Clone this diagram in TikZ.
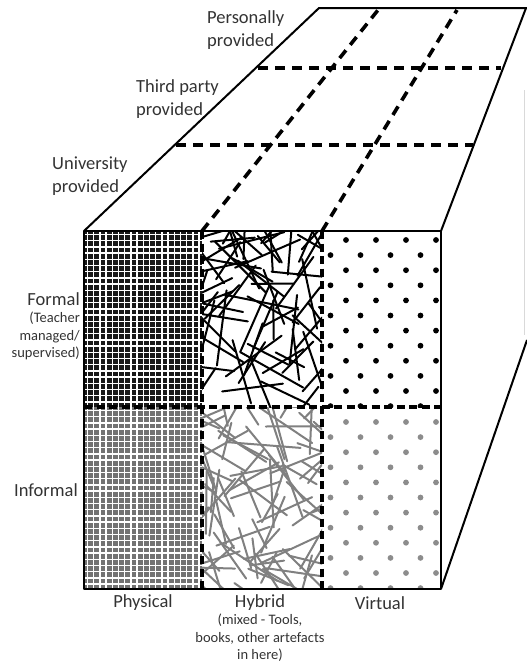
\documentclass[tikz,border=0pt]{standalone}
\usepackage{fontspec}
\setmainfont{Carlito}
\tikzset{
	edge/.style={line width=2pt, line join=round},
	celldash/.style={line width=3.6pt, dash pattern=on 8pt off 4.5pt},
	topdash/.style={line width=3.6pt, dash pattern=on 10pt off 7pt},
	strand/.style={line width=2pt, line cap=round},
	lbl/.style={inner sep=0pt, text=black!80, font=\fontsize{18.5}{23}\selectfont},
	note/.style={inner sep=0pt, text=black!80, font=\fontsize{14.5}{17.5}\selectfont},
}

\begin{document}
\begin{tikzpicture}[x=1pt, y=-1pt]
			%%%%% START %%%%%
			\useasboundingbox (0, 0) rectangle (527, 665);
			
			% physical: grid
			\foreach \ya/\yb/\shade in {231/407/90, 407/589/55}{
				\fill[black!\shade] (84, \ya) rectangle (202, \yb);
				\begin{scope}
					\clip (84, \ya) rectangle (202, \yb);
					\foreach \i in {0,...,19}
						\draw[white, line width=1.5pt] ({87.5+6.2*\i}, \ya) -- ++(0, 200);
					\foreach \i in {0,...,30}
						\draw[white, line width=1.5pt] (84, {\ya+3.5+6.2*\i}) -- ++(120, 0);
				\end{scope}
			}
			
			% hybrid: random strands
			\pgfmathsetseed{2024}
			\foreach \ya/\yb/\col/\num in {231/407/black/78, 407/589/black!50/92}{
				\begin{scope}
					\clip (202, \ya) rectangle (322, \yb);
					\foreach \i in {1,...,\num}{
						\pgfmathsetmacro\xa{190+144*rnd}
						\pgfmathsetmacro\yc{\ya-10+(\yb-\ya+20)*rnd}
						\pgfmathsetmacro\an{180*rnd}
						\pgfmathsetmacro\le{16+22*rnd}
						\draw[strand, color=\col] (\xa, \yc) ++(\an:\le) -- ++({\an+180}:{2*\le});
					}
				\end{scope}
			}
			
			% virtual: dots
			\foreach \yo/\col in {240/black, 422/black!45}{
				\begin{scope}
					\clip (322, {\yo-9}) rectangle (441, {\yo+167});
					\foreach \r in {0,...,11}{
						\pgfmathsetmacro\xo{346-15.5*mod(\r,2)}
						\foreach \c in {0,...,3}
							\fill[\col] ({\xo+30*\c}, {\yo+15.1*\r}) circle (2.9);
					}
				\end{scope}
			}
			
			% cell borders
			\draw[celldash] (202, 231) -- (202, 589);
			\draw[celldash] (322, 231) -- (322, 589);
			\draw[celldash] (84, 407) -- (441, 407);
			
			% top face
			\draw[topdash] (202, 231) -- (378, 10);
			\draw[topdash] (322, 231) -- (457, 10);
			\draw[topdash] (258, 68) -- (501, 68);
			\draw[topdash] (176, 145) -- (473, 145);
			
			\draw[edge] (84, 231) rectangle (441, 589);
			\draw[edge] (84, 231) -- (319, 8) -- (527, 8);
			\draw[edge] (441, 231) -- (526, 8);
			\draw[edge] (441, 589) -- (527, 340);
			\draw[black!15, line width=0.6pt] (524, 90) -- (524, 335);
			
			% labels
			\node[lbl, anchor=west, align=left] (personal) at (207, 30) {Personally\\provided};
			\node[lbl, anchor=west, align=left] (thirdparty) at (136, 99) {Third party\\provided};
			\node[lbl, anchor=west, align=left] (university) at (52, 176) {University\\provided};
			
			\node[lbl, anchor=east] (formal) at (80, 299) {Formal};
			\node[note, anchor=east, align=right] (formalnote) at (80, 336) {(Teacher\\managed/\\supervised)};
			\node[lbl, anchor=east] (informal) at (78, 490) {Informal};
			
			\node[lbl] (physical) at (143, 603) {Physical};
			\node[lbl] (hybrid) at (260, 603) {Hybrid};
			\node[note, align=center] (hybridnote) at (260, 638) {(mixed - Tools,\\books, other artefacts\\in here)};
			\node[lbl] (virtual) at (380, 603) {Virtual};
			
			%%%%% END %%%%%
\end{tikzpicture}
\end{document}
